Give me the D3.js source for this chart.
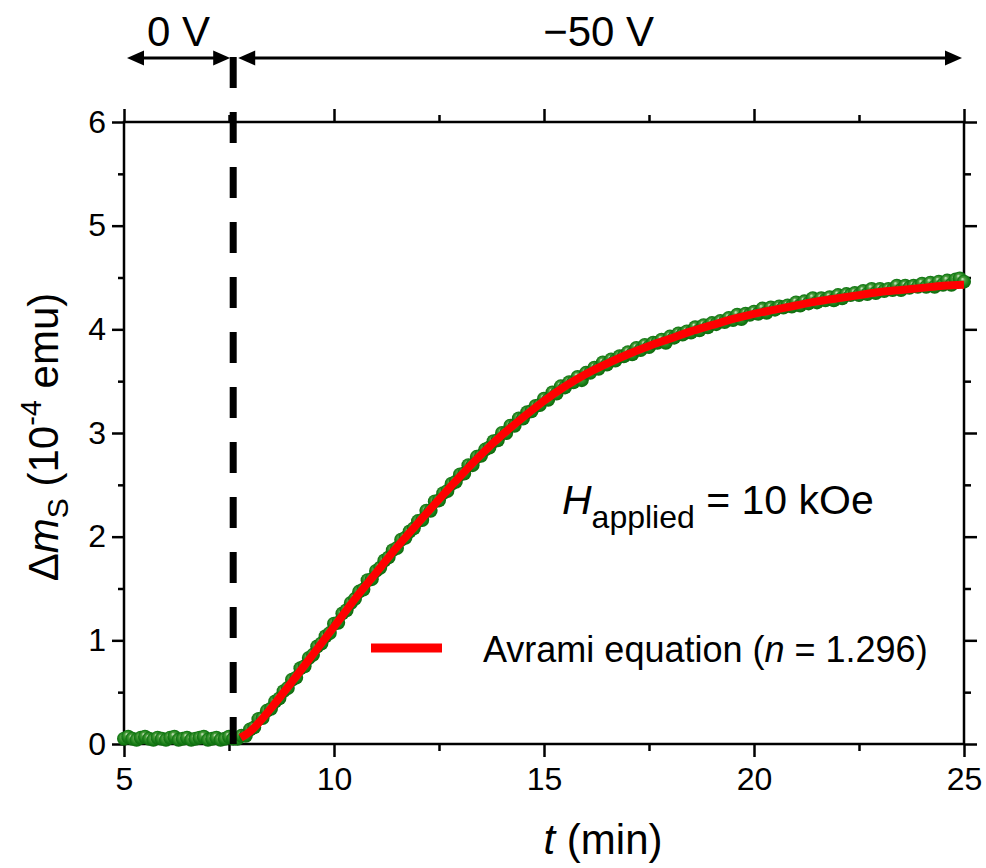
<!DOCTYPE html>
<html>
<head>
<meta charset="utf-8">
<script src="https://cdn.jsdelivr.net/npm/d3@7"></script>
<style>
  body { margin: 0; background: #fff; }
  text { font-family: "Liberation Sans", Arial, sans-serif; fill: #000; }
</style>
</head>
<body>
<div id="chart"></div>
<script>
// measured points, one every 0.1 min starting at t = 5 min
var dataStart = 5.0, dataStep = 0.1;
var dmValues = [
  // 5.0 - 7.6 (0 V)
  0.05,0.07,0.05,0.04,0.06,0.07,0.05,0.04,0.06,0.05,
  0.04,0.06,0.07,0.04,0.05,0.06,0.04,0.05,0.06,0.07,
  0.04,0.05,0.06,0.04,0.05,0.07,0.05,
  // 7.7 - 8.0
  0.05,0.08,0.08,0.14,
  // 8.1 - 25.0
  0.16,0.24,0.25,0.32,0.34,  0.41,0.44,0.51,0.54,0.62,
  0.64,0.73,0.75,0.83,0.86,  0.94,0.97,1.04,1.07,1.16,
  1.17,1.26,1.29,1.36,1.40,  1.47,1.49,1.58,1.59,1.67,
  1.70,1.77,1.80,1.87,1.89,  1.97,1.99,2.05,2.08,2.15,
  2.16,2.25,2.25,2.34,2.35,  2.42,2.44,2.51,2.53,2.60,
  2.61,2.69,2.69,2.77,2.78,  2.84,2.86,2.92,2.93,3.00,
  3.00,3.07,3.07,3.14,3.14,  3.20,3.21,3.26,3.27,3.33,
  3.32,3.39,3.38,3.45,3.44,  3.49,3.49,3.54,3.51,3.58,
  3.58,3.63,3.62,3.68,3.66,  3.71,3.70,3.74,3.74,3.78,
  3.76,3.82,3.80,3.85,3.83,  3.87,3.87,3.90,3.87,3.93,
  3.92,3.96,3.95,3.98,3.97,  4.02,3.99,4.04,4.02,4.06,
  4.05,4.08,4.07,4.11,4.09,  4.14,4.10,4.15,4.14,4.17,
  4.15,4.20,4.16,4.21,4.19,  4.22,4.21,4.23,4.22,4.26,
  4.23,4.27,4.25,4.30,4.26,  4.30,4.28,4.31,4.28,4.33,
  4.30,4.34,4.33,4.35,4.33,  4.37,4.34,4.39,4.35,4.39,
  4.37,4.39,4.38,4.42,4.38,  4.42,4.40,4.42,4.41,4.44,
  4.41,4.45,4.41,4.46,4.43,  4.47,4.43,4.48,4.49,4.46
];

// Avrami fit curve
var fitTimes = [7.78, 8, 8.5, 9, 9.5, 10, 10.5, 11, 11.5, 12, 12.5, 13, 13.5, 14, 14.5, 15,
  15.5, 16, 16.5, 17, 17.5, 18, 18.5, 19, 19.5, 20, 20.5, 21, 21.5, 22, 22.5, 23, 23.5, 24, 24.5, 25];
var fitValues = [0.06, 0.12, 0.345, 0.60, 0.865, 1.13, 1.40, 1.65, 1.90, 2.13, 2.36, 2.58, 2.79, 2.98, 3.15, 3.31,
  3.45, 3.57, 3.67, 3.76, 3.84, 3.91, 3.98, 4.04, 4.10, 4.15, 4.19, 4.23, 4.27, 4.30, 4.33, 4.36, 4.38, 4.40, 4.42, 4.43];

var switchTime = 7.6;   // voltage switched from 0 V to -50 V
var xTicks = [5, 10, 15, 20, 25];
var xMinor = [7.5, 12.5, 17.5, 22.5];
var yTicks = [0, 1, 2, 3, 4, 5, 6];
var yMinor = [0.5, 1.5, 2.5, 3.5, 4.5, 5.5];

var W = 986, H = 868;
var margin = {top: 122, left: 124},
    width = 840,
    height = 622;

var svg = d3.select("#chart").append("svg")
  .attr("width", W).attr("height", H);

var defs = svg.append("defs");
var grad = defs.append("radialGradient").attr("id", "ball")
  .attr("cx", "50%").attr("cy", "50%").attr("r", "55%")
  .attr("fx", "38%").attr("fy", "30%");
grad.append("stop").attr("offset", "0%").attr("stop-color", "#d8ecd0");
grad.append("stop").attr("offset", "28%").attr("stop-color", "#4f9f40");
grad.append("stop").attr("offset", "70%").attr("stop-color", "#177e17");
grad.append("stop").attr("offset", "100%").attr("stop-color", "#0a620a");

var g = svg.append("g")
  .attr("transform", "translate(" + margin.left + "," + margin.top + ")");

var x = d3.scaleLinear().domain([5, 25]).range([0, width]);
var y = d3.scaleLinear().domain([0, 6]).range([height, 0]);

function styleAxis(sel) {
  sel.select(".domain").remove();
  sel.selectAll(".tick line").attr("stroke", "#000").attr("stroke-width", 2.5);
  sel.selectAll(".tick text").style("font-size", "32px").attr("fill", "#000");
}

// bottom
g.append("g").attr("transform", "translate(0," + height + ")")
  .call(d3.axisBottom(x).tickValues(xTicks).tickSize(13).tickPadding(10).tickFormat(d3.format("d")))
  .call(styleAxis);
g.append("g").attr("transform", "translate(0," + height + ")")
  .call(d3.axisBottom(x).tickValues(xMinor).tickSize(7).tickFormat(""))
  .call(styleAxis);
// top
g.append("g")
  .call(d3.axisTop(x).tickValues(xTicks).tickSize(13).tickFormat(""))
  .call(styleAxis);
g.append("g")
  .call(d3.axisTop(x).tickValues(xMinor).tickSize(7).tickFormat(""))
  .call(styleAxis);
// left
g.append("g")
  .call(d3.axisLeft(y).tickValues(yTicks).tickSize(12).tickPadding(6).tickFormat(d3.format("d")))
  .call(styleAxis);
g.append("g")
  .call(d3.axisLeft(y).tickValues(yMinor).tickSize(6).tickFormat(""))
  .call(styleAxis);
// right
g.append("g").attr("transform", "translate(" + width + ",0)")
  .call(d3.axisRight(y).tickValues(yTicks).tickSize(13).tickFormat(""))
  .call(styleAxis);
g.append("g").attr("transform", "translate(" + width + ",0)")
  .call(d3.axisRight(y).tickValues(yMinor).tickSize(7).tickFormat(""))
  .call(styleAxis);

g.append("rect")
  .attr("x", 0).attr("y", 0).attr("width", width).attr("height", height)
  .attr("fill", "none").attr("stroke", "#000").attr("stroke-width", 2.5);

// data points
g.selectAll("circle.pt")
  .data(dmValues)
  .enter().append("circle")
  .attr("class", "pt")
  .attr("cx", function(d, i) { return x(dataStart + i * dataStep); })
  .attr("cy", function(d) { return y(d); })
  .attr("r", 7)
  .attr("fill", "url(#ball)");

// fit line
var fitData = fitTimes.map(function(t, i) { return [t, fitValues[i]]; });
g.append("path")
  .datum(fitData)
  .attr("fill", "none")
  .attr("stroke", "#ff0000")
  .attr("stroke-width", 8)
  .attr("d", d3.line()
    .x(function(d) { return x(d[0]); })
    .y(function(d) { return y(d[1]); })
    .curve(d3.curveMonotoneX));

// dashed switch line
g.append("line")
  .attr("x1", x(switchTime)).attr("x2", x(switchTime))
  .attr("y1", -65).attr("y2", height)
  .attr("stroke", "#000").attr("stroke-width", 7)
  .attr("stroke-dasharray", "31,24");

// arrows above the plot
var arrowY = -64;
function arrow(xa, xb) {
  g.append("line").attr("x1", xa + 10).attr("x2", xb - 10)
    .attr("y1", arrowY).attr("y2", arrowY)
    .attr("stroke", "#000").attr("stroke-width", 3);
  g.append("path")
    .attr("d", "M" + xa + "," + arrowY + "l17,-7.5l0,15z").attr("fill", "#000");
  g.append("path")
    .attr("d", "M" + xb + "," + arrowY + "l-17,-7.5l0,15z").attr("fill", "#000");
}
arrow(x(5) + 3, x(switchTime) - 3);
arrow(x(switchTime) + 5, x(25) - 2);

g.append("text")
  .attr("x", (x(5) + x(switchTime)) / 2).attr("y", -76)
  .attr("text-anchor", "middle").style("font-size", "42px")
  .text("0 V");
g.append("text")
  .attr("x", (x(switchTime) + x(25)) / 2).attr("y", -76)
  .attr("text-anchor", "middle").style("font-size", "42px")
  .text("\u221250 V");

// field annotation
var hText = svg.append("text").attr("x", 562).attr("y", 514).style("font-size", "41px");
hText.append("tspan").style("font-style", "italic").text("H");
hText.append("tspan").attr("dy", 14).style("font-size", "32px").text("applied");
hText.append("tspan").attr("dy", -14).text(" = 10 kOe");

// legend
svg.append("line")
  .attr("x1", 371).attr("x2", 442).attr("y1", 648).attr("y2", 648)
  .attr("stroke", "#ff0000").attr("stroke-width", 9);
var leg = svg.append("text").attr("x", 483).attr("y", 662).style("font-size", "36px");
leg.append("tspan").text("Avrami equation (");
leg.append("tspan").style("font-style", "italic").text("n");
leg.append("tspan").text(" = 1.296)");

// axis titles
var xt = svg.append("text")
  .attr("x", 603).attr("y", 854)
  .attr("text-anchor", "middle").style("font-size", "42px");
xt.append("tspan").style("font-style", "italic").text("t");
xt.append("tspan").text(" (min)");

var yt = svg.append("text")
  .attr("transform", "translate(58,437) rotate(-90)")
  .attr("text-anchor", "middle").style("font-size", "42px");
yt.append("tspan").text("\u0394");
yt.append("tspan").style("font-style", "italic").text("m");
yt.append("tspan").attr("dy", 10).style("font-size", "30px").text("S");
yt.append("tspan").attr("dy", -10).text(" (10");
yt.append("tspan").attr("dy", -17).style("font-size", "29px").text("-4");
yt.append("tspan").attr("dy", 17).text(" emu)");
</script>
</body>
</html>
